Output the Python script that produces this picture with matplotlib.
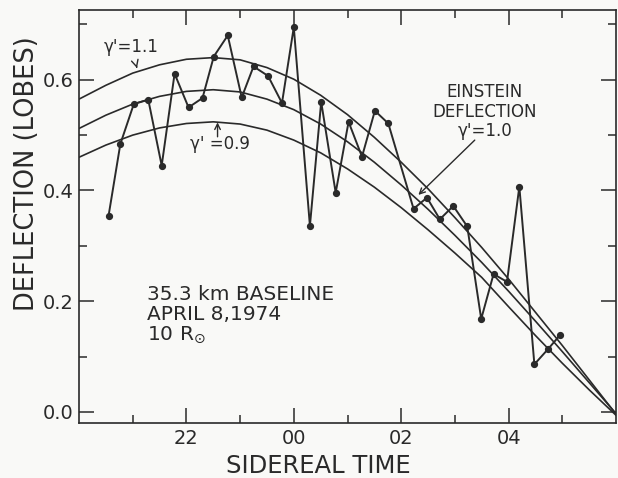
import numpy as np
import matplotlib
matplotlib.use("Agg")
import matplotlib.pyplot as plt
from matplotlib.ticker import FixedLocator, FixedFormatter

# ---- data ----
time_obs = [20.55, 20.77, 21.02, 21.29, 21.54, 21.78, 22.04, 22.30, 22.51, 22.77,
            23.03, 23.25, 23.52, 23.78, 24.00, 24.30, 24.51, 24.78, 25.02, 25.27,
            25.51, 25.76, 26.23, 26.48, 26.72, 26.97, 27.23, 27.49, 27.72, 27.97,
            28.20, 28.48, 28.73, 28.96]
defl_obs = [0.354, 0.484, 0.556, 0.564, 0.445, 0.611, 0.550, 0.567, 0.642, 0.680,
            0.568, 0.624, 0.607, 0.558, 0.695, 0.336, 0.560, 0.396, 0.524, 0.461,
            0.544, 0.521, 0.367, 0.387, 0.348, 0.372, 0.335, 0.168, 0.249, 0.235,
            0.407, 0.086, 0.113, 0.139]

time_curve = [20.0, 20.5, 21.0, 21.5, 22.0, 22.5, 23.0, 23.5, 24.0, 24.5, 25.0,
              25.5, 26.0, 26.5, 27.0, 27.5, 28.0, 28.5, 29.0, 29.5, 30.0]
curve_g11 = [0.565, 0.590, 0.612, 0.627, 0.637, 0.640, 0.636, 0.622, 0.601, 0.572,
             0.537, 0.496, 0.451, 0.403, 0.351, 0.297, 0.240, 0.180, 0.120, 0.058, -0.004]
curve_g10 = [0.512, 0.536, 0.556, 0.570, 0.579, 0.582, 0.578, 0.565, 0.546, 0.520,
             0.488, 0.451, 0.410, 0.366, 0.319, 0.270, 0.218, 0.164, 0.109, 0.053, -0.003]
curve_g09 = [0.460, 0.482, 0.500, 0.513, 0.521, 0.524, 0.520, 0.509, 0.491, 0.468,
             0.439, 0.406, 0.369, 0.329, 0.287, 0.243, 0.190, 0.138, 0.088, 0.040, -0.006]

xtick_pos = [22, 24, 26, 28]
xtick_labels = ["22", "00", "02", "04"]
xminor_pos = [21, 23, 25, 27, 29]
ytick_pos = [0.0, 0.2, 0.4, 0.6]
ytick_labels = ["0.0", "0.2", "0.4", "0.6"]
yminor_pos = [0.1, 0.3, 0.5, 0.7]

ink = "#2a2a2a"
paper = "#f9f9f7"

plt.rcParams['font.family'] = ['DejaVu Sans']

W, H = 618, 478
fig = plt.figure(figsize=(W/100, H/100), dpi=100, facecolor=paper)
ax = fig.add_axes([79/W, 1-423/H, 537/W, 413/H], facecolor=paper)

for c in (curve_g11, curve_g10, curve_g09):
    ax.plot(time_curve, c, color=ink, lw=1.2, solid_capstyle='round')

ax.plot(time_obs, defl_obs, color=ink, lw=1.4, marker='o', ms=4.2,
        mfc=ink, mec=ink)

ax.set_xlim(20, 30)
ax.set_ylim(-0.02, 0.726)

ax.xaxis.set_major_locator(FixedLocator(xtick_pos))
ax.xaxis.set_major_formatter(FixedFormatter(xtick_labels))
ax.xaxis.set_minor_locator(FixedLocator(xminor_pos))
ax.yaxis.set_major_locator(FixedLocator(ytick_pos))
ax.yaxis.set_major_formatter(FixedFormatter(ytick_labels))
ax.yaxis.set_minor_locator(FixedLocator(yminor_pos))

ax.tick_params(which='both', direction='in', top=True, right=True, color=ink,
               labelcolor=ink, width=1.1)
ax.tick_params(which='major', length=11, labelsize=14, pad=4)
ax.tick_params(which='minor', length=5.5)
for s in ax.spines.values():
    s.set_color(ink)
    s.set_linewidth(1.2)

fig.text(318/W, 1-466/H, "SIDEREAL TIME", fontsize=17.5, color=ink,
         ha='center', va='center')
fig.text(27/W, 1-174/H, "DEFLECTION (LOBES)", fontsize=18.5, color=ink,
         ha='center', va='center', rotation=90)

arrow = dict(arrowstyle='->', color=ink, lw=1.0, shrinkA=0, shrinkB=0)
ax.annotate("γ'=1.1", xy=(21.08, 0.621), xytext=(20.97, 0.659), fontsize=12,
            color=ink, ha='center', va='center',
            arrowprops=dict(arrowstyle='->', color=ink, lw=1.0, shrinkA=6, shrinkB=0))
ax.annotate("", xy=(22.58, 0.523), xytext=(22.58, 0.497), arrowprops=arrow)
ax.text(22.62, 0.484, "γ' =0.9", fontsize=12, color=ink, ha='center', va='center')

ax.text(27.56, 0.542, "EINSTEIN\nDEFLECTION\nγ'=1.0", fontsize=12, color=ink,
        ha='center', va='center', linespacing=1.1)
ax.annotate("", xy=(26.32, 0.392), xytext=(27.37, 0.491), arrowprops=arrow)

ax.text(21.27, 0.175, "35.3 km BASELINE\nAPRIL 8,1974\n10 R$_{\\odot}$", fontsize=14.5,
        color=ink, ha='left', va='center', linespacing=1.05)

fig.savefig("out.png", dpi=100, facecolor=paper)
